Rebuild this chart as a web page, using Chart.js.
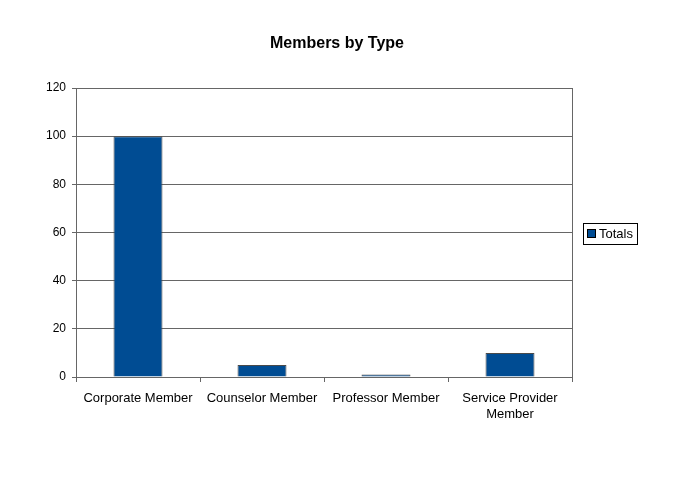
<!DOCTYPE html>
<html><head><meta charset="utf-8">
<script src="https://cdn.jsdelivr.net/npm/chart.js@4/dist/chart.umd.min.js"></script>
<style>html,body{margin:0;padding:0;background:#fff}#wrap{width:688px;height:485px}</style>
</head><body><div id="wrap"><canvas id="c" width="688" height="485"></canvas></div>
<script>
const chartTitle = 'Members by Type';
const categories = ['Corporate Member', 'Counselor Member', 'Professor Member', ['Service Provider', 'Member']];
const seriesName = 'Totals';
const totals = [100, 5, 1, 10];
const yTicks = [0, 20, 40, 60, 80, 100, 120];

const FONT = 'Arial, "Liberation Sans", sans-serif';
const barColor = '#004C93';
const lineColor = '#666666';

const decor = {
  id: 'decor',
  afterDraw(chart) {
    const ctx = chart.ctx, a = chart.chartArea;
    ctx.save();
    ctx.strokeStyle = lineColor; ctx.lineWidth = 1;
    ctx.strokeRect(Math.round(a.left) + 0.5, Math.round(a.top) + 0.5, Math.round(a.right - a.left), Math.round(a.bottom - a.top));
    // title
    ctx.fillStyle = '#000';
    ctx.font = 'bold 16px ' + FONT;
    ctx.textAlign = 'center'; ctx.textBaseline = 'middle';
    ctx.fillText(chartTitle, 337, 44);
    // legend
    ctx.strokeStyle = '#000';
    ctx.strokeRect(583.5, 223.5, 54, 21);
    ctx.fillStyle = chart.data.datasets[0].backgroundColor;
    ctx.fillRect(588, 230, 7, 7);
    ctx.strokeRect(587.5, 229.5, 8, 8);
    ctx.fillStyle = '#000';
    ctx.font = '13px ' + FONT;
    ctx.textAlign = 'left';
    ctx.fillText(chart.data.datasets[0].label, 599, 234);
    ctx.restore();
  }
};

new Chart(document.getElementById('c'), {
  type: 'bar',
  data: {
    labels: categories,
    datasets: [{
      label: seriesName,
      data: totals,
      backgroundColor: barColor,
      borderColor: '#4a4a4a',
      borderWidth: 1,
      categoryPercentage: 1,
      barPercentage: 0.395
    }]
  },
  options: {
    responsive: false,
    animation: false,
    devicePixelRatio: 1,
    layout: { padding: { top: 88, right: 116, left: 0, bottom: 0 } },
    plugins: { legend: { display: false }, title: { display: false }, tooltip: { enabled: false } },
    scales: {
      x: {
        offset: true,
        grid: { offset: true, drawOnChartArea: false, drawTicks: true, tickLength: 5, color: lineColor },
        border: { color: lineColor },
        ticks: { color: '#000', font: { family: FONT, size: 13, lineHeight: 1.25 }, padding: 8, maxRotation: 0, autoSkip: false },
        afterFit(s) { s.height = 108; }
      },
      y: {
        min: 0, max: 120,
        afterBuildTicks(s) { s.ticks = yTicks.map(v => ({ value: v })); },
        grid: { color: lineColor, tickLength: 4 },
        border: { color: lineColor },
        ticks: { color: '#000', font: { family: FONT, size: 12 }, padding: 6 },
        afterFit(s) { s.width = 76; }
      }
    }
  },
  plugins: [decor]
});
</script>
</body></html>
